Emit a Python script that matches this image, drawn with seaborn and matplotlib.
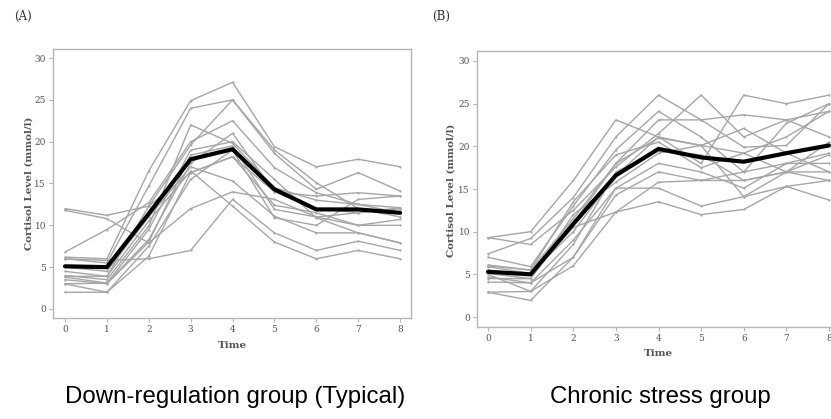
import numpy as np
import pandas as pd
import matplotlib
matplotlib.use("Agg")
import matplotlib.pyplot as plt
import seaborn as sns

# ---------------- data ----------------
time_points = [0, 1, 2, 3, 4, 5, 6, 7, 8]

# Panel A: Down-regulation group (Typical) - individual subjects
a_s01 = [12.0, 11.2, 12.3, 16.3, 18.2, 14.0, 13.5, 13.9, 13.5]
a_s02 = [11.8, 10.8, 7.9, 12.0, 14.0, 13.1, 11.0, 10.0, 10.0]
a_s03 = [6.8, 9.5, 12.7, 20.0, 22.5, 16.9, 13.9, 12.5, 12.1]
a_s04 = [6.2, 6.0, 16.5, 24.9, 27.1, 19.4, 17.0, 17.9, 17.0]
a_s05 = [6.0, 5.5, 14.7, 24.0, 25.0, 18.6, 14.3, 16.3, 14.1]
a_s06 = [6.0, 5.8, 6.0, 7.0, 13.1, 9.1, 7.0, 8.1, 7.0]
a_s07 = [4.0, 3.5, 9.9, 22.0, 19.8, 14.5, 13.0, 12.5, 11.5]
a_s08 = [3.9, 3.9, 12.3, 19.6, 25.0, 19.0, 15.1, 12.0, 11.0]
a_s09 = [3.8, 3.1, 8.3, 17.4, 21.0, 14.0, 12.0, 11.5, 12.0]
a_s10 = [3.0, 3.1, 9.5, 19.0, 20.0, 15.5, 10.9, 9.1, 7.9]
a_s11 = [3.0, 2.0, 6.3, 16.3, 18.2, 12.4, 11.5, 10.0, 10.7]
a_s12 = [2.0, 2.0, 7.5, 15.5, 19.0, 10.9, 10.0, 13.1, 13.5]
a_s13 = [5.0, 4.5, 11.0, 17.0, 15.3, 11.1, 9.1, 9.1, 7.9]
a_s14 = [4.5, 3.9, 10.5, 16.5, 12.3, 8.0, 6.0, 7.0, 6.0]
a_s15 = [3.5, 3.0, 8.0, 18.4, 19.5, 11.9, 11.0, 11.5, 12.1]
a_mean = [5.1, 5.0, 11.4, 17.9, 19.1, 14.3, 11.9, 11.9, 11.5]

# Panel B: Chronic stress group - individual subjects
b_s01 = [9.3, 10.0, 16.0, 23.1, 21.1, 20.1, 19.2, 17.0, 16.0]
b_s02 = [9.3, 8.5, 12.5, 17.6, 21.5, 26.0, 21.1, 23.1, 24.1]
b_s03 = [7.4, 9.2, 14.0, 21.1, 26.0, 23.1, 19.9, 20.1, 25.0]
b_s04 = [7.0, 5.9, 13.0, 19.6, 24.1, 21.1, 17.0, 22.7, 25.0]
b_s05 = [6.1, 5.5, 11.5, 18.0, 23.1, 23.1, 23.7, 23.1, 21.1]
b_s06 = [5.9, 5.1, 10.0, 16.6, 21.1, 18.0, 26.0, 25.0, 26.0]
b_s07 = [5.1, 4.5, 12.0, 15.8, 19.2, 20.1, 22.1, 19.2, 17.0]
b_s08 = [4.7, 4.0, 9.0, 15.1, 18.0, 17.0, 15.1, 18.0, 19.2]
b_s09 = [4.1, 4.0, 7.0, 14.3, 17.0, 16.0, 16.0, 17.0, 17.0]
b_s10 = [2.9, 3.0, 6.0, 12.3, 15.8, 16.0, 17.0, 18.0, 18.0]
b_s11 = [2.9, 1.95, 7.0, 15.1, 15.1, 13.0, 14.1, 15.3, 13.7]
b_s12 = [5.5, 5.0, 10.5, 12.3, 13.5, 12.0, 12.6, 15.3, 16.0]
b_s13 = [6.0, 5.5, 13.5, 19.0, 20.5, 17.5, 19.2, 21.1, 24.1]
b_s14 = [5.0, 3.0, 8.5, 17.0, 19.5, 19.0, 16.0, 17.0, 19.0]
b_s15 = [4.5, 4.5, 11.0, 18.0, 21.0, 20.1, 14.1, 17.0, 20.5]
b_mean = [5.3, 5.0, 10.9, 16.6, 19.7, 18.7, 18.2, 19.2, 20.1]

panel_a_subjects = [a_s01, a_s02, a_s03, a_s04, a_s05, a_s06, a_s07, a_s08,
                    a_s09, a_s10, a_s11, a_s12, a_s13, a_s14, a_s15]
panel_b_subjects = [b_s01, b_s02, b_s03, b_s04, b_s05, b_s06, b_s07, b_s08,
                    b_s09, b_s10, b_s11, b_s12, b_s13, b_s14, b_s15]

y_ticks = [0, 5, 10, 15, 20, 25, 30]
panel_tags = ["(A)", "(B)"]
captions = ["Down-regulation group (Typical)", "Chronic stress group"]
x_title = "Time"
y_title = "Cortisol Level (mmol/l)"


def long_frame(subjects):
    rows = []
    for i, vals in enumerate(subjects):
        for t, v in zip(time_points, vals):
            rows.append({"subject": i, "Time": t, "value": v})
    return pd.DataFrame(rows)


sns.set_theme(style="white")
plt.rcParams["font.family"] = ["DejaVu Serif"]

W, H = 831, 419
fig = plt.figure(figsize=(W / 100, H / 100), dpi=100)


def px_axes(left, right, top, bottom):
    return fig.add_axes([left / W, (H - bottom) / H, (right - left) / W, (bottom - top) / H])


ax_a = px_axes(53, 411, 49, 318)
ax_b = px_axes(477, 840, 51, 327)

GREY = "#a6a6a6"
SPINE = "#b5b5b5"
TXT = "#555555"

for ax, subjects, mean, xl, yl in [
    (ax_a, panel_a_subjects, a_mean, (-0.286, 8.26), (-1.08, 31.08)),
    (ax_b, panel_b_subjects, b_mean, (-0.258, 8.258), (-1.17, 31.17)),
]:
    df = long_frame(subjects)
    sns.lineplot(data=df, x="Time", y="value", units="subject", estimator=None,
                 color=GREY, lw=1.0, marker="o", markersize=1.6,
                 markeredgewidth=0, ax=ax)
    dm = pd.DataFrame({"Time": time_points, "value": mean})
    sns.lineplot(data=dm, x="Time", y="value", color="black", lw=3.0, ax=ax)
    ax.set_xlim(*xl)
    ax.set_ylim(*yl)
    ax.set_xticks(time_points)
    ax.set_yticks(y_ticks)
    ax.tick_params(axis="both", which="both", length=3, width=0.8, color=SPINE,
                   labelsize=6.5, labelcolor=TXT, pad=2, direction="out",
                   bottom=True, left=True)
    for sp in ax.spines.values():
        sp.set_color(SPINE)
        sp.set_linewidth(1.0)
    ax.set_xlabel(x_title, fontsize=7.5, color=TXT, fontweight="bold")
    ax.set_ylabel(y_title, fontsize=7.5, color=TXT, fontweight="bold")
    ax.grid(False)

ax_a.xaxis.set_label_coords(0.5, -0.085)
ax_b.xaxis.set_label_coords(0.501, -0.078)
ax_a.yaxis.set_label_coords(-0.055, 0.502)
ax_b.yaxis.set_label_coords(-0.06, 0.496)

fig.text(14 / W, 1 - 16 / H, panel_tags[0], fontsize=8.5, color="#333333", va="center", ha="left")
fig.text(432 / W, 1 - 16 / H, panel_tags[1], fontsize=8.5, color="#333333", va="center", ha="left")

fig.text(235 / W, 1 - 403 / H, captions[0], fontsize=17.3, color="black",
         family="Liberation Sans", ha="center", va="baseline")
fig.text(660 / W, 1 - 403 / H, captions[1], fontsize=17.3, color="black",
         family="Liberation Sans", ha="center", va="baseline")

fig.savefig("out.png", dpi=100)
